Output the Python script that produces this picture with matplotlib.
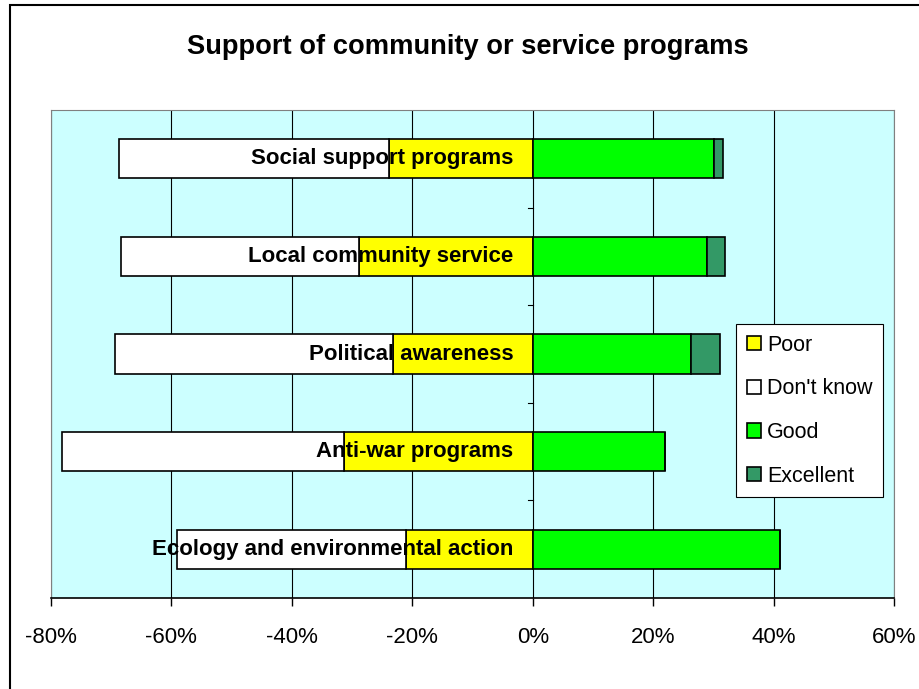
import matplotlib
matplotlib.use("Agg")
import matplotlib.pyplot as plt
from matplotlib.patches import Rectangle

plt.rcParams['font.family'] = ['Liberation Sans', 'DejaVu Sans']

programs = ["Social support programs", "Local community service", "Political awareness",
            "Anti-war programs", "Ecology and environmental action"]
poor = [23.8, 28.8, 23.2, 31.3, 21.1]
dont_know = [44.9, 39.5, 46.2, 46.9, 37.9]
good = [30.1, 28.9, 26.3, 21.9, 41.1]
excellent = [1.5, 3.0, 4.8, 0.0, 0.0]
ticks = [-80, -60, -40, -20, 0, 20, 40, 60]

fig = plt.figure(figsize=(9.19, 6.89), dpi=100)
ax = fig.add_axes([51 / 919, 1 - 598 / 689, 843 / 919, 488 / 689])
ax.set_facecolor('#CCFFFF')

y = list(range(len(programs)))[::-1]
h = 0.4
neg_poor = [-p for p in poor]
ax.barh(y, neg_poor, height=h, color='#FFFF00', edgecolor='black', lw=1.2, label='Poor', zorder=3)
ax.barh(y, [-d for d in dont_know], left=neg_poor, height=h, color='white',
        edgecolor='black', lw=1.2, label="Don't know", zorder=3)
ax.barh(y, good, height=h, color='#00FF00', edgecolor='black', lw=1.2, label='Good', zorder=3)
ax.barh(y, excellent, left=good, height=h, color='#339966', edgecolor='black', lw=1.2,
        label='Excellent', zorder=3)

for yi, name in zip(y, programs):
    ax.text(-3.2, yi, name, ha='right', va='center', fontsize=16, fontweight='bold', zorder=5)

ax.set_xlim(-80, 60)
ax.set_ylim(-0.5, len(programs) - 0.5)
ax.set_xticks(ticks)
ax.set_xticklabels([f"{t}%" for t in ticks], fontsize=16)
ax.grid(axis='x', color='black', lw=0.8, zorder=1)
ax.tick_params(axis='x', length=6, pad=15, width=1)
ax.set_yticks([])
for yb in [0.5, 1.5, 2.5, 3.5]:
    ax.plot([-0.8, 0], [yb, yb], color='black', lw=0.8, zorder=2)
for s in ['top', 'right', 'left']:
    ax.spines[s].set_color('grey')
ax.spines['bottom'].set_color('black')
ax.spines['bottom'].set_linewidth(1.2)

fig.text(468 / 919, 1 - 47 / 689, "Support of community or service programs", ha='center',
         va='center', fontsize=19.6, fontweight='bold')

leg = ax.legend(loc='upper left', bbox_to_anchor=((736 - 51) / 843, (598 - 324) / 488),
                fontsize=15.5, frameon=True, fancybox=False, edgecolor='black', framealpha=1,
                handlelength=0.65, handleheight=0.65, handletextpad=0.3, labelspacing=1.05,
                borderpad=0.5, borderaxespad=0)
leg.get_frame().set_linewidth(0.8)

fig.patches.append(Rectangle((10 / 919, -0.01), 1.1, 1 - 5 / 689 + 0.01, transform=fig.transFigure,
                             fill=False, edgecolor='black', lw=1.5))

fig.savefig("out.png", dpi=100)
